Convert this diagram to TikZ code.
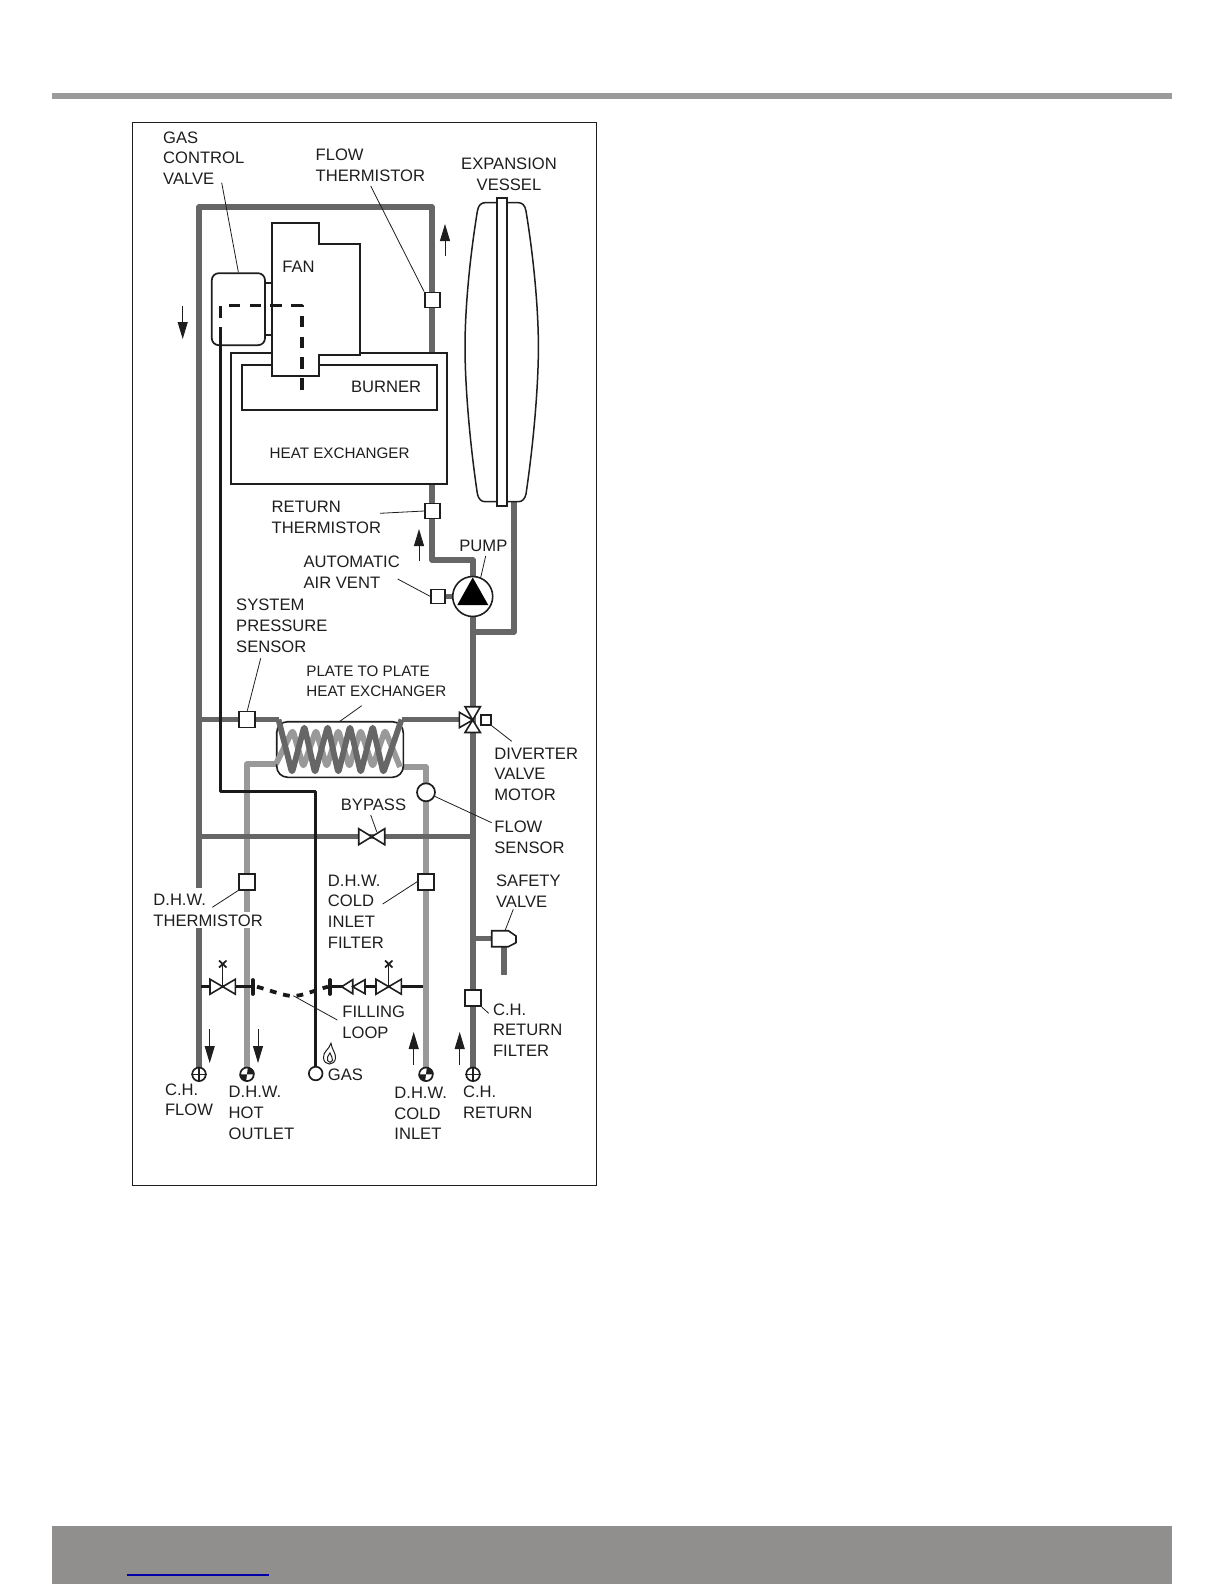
\documentclass[tikz,border=0pt]{standalone}
\usepackage{fontspec}
\setmainfont{Liberation Sans}
\usetikzlibrary{arrows.meta}
\definecolor{pipeD}{HTML}{666666}
\definecolor{pipeL}{HTML}{999999}
\definecolor{bandG}{HTML}{908F8E}
\definecolor{ruleG}{HTML}{9B9B9B}
\definecolor{inkK}{HTML}{1E1E1E}
\newcommand\stk[1]{\vtop{\baselineskip=10.35pt \lineskiplimit=-100pt \halign{##\hfil\cr #1\crcr}}}
\newcommand\stc[1]{\vtop{\baselineskip=10.35pt \lineskiplimit=-100pt \halign{\hfil##\hfil\cr #1\crcr}}}
\tikzset{
  pipedark/.style={draw=pipeD,line width=2.6pt,line join=round,line cap=butt},
  pipelight/.style={draw=pipeL,line width=2.6pt,line join=round,line cap=butt},
  gasline/.style={draw=black!90,line width=1.5pt,line join=round},
  thin box/.style={draw=inkK,fill=white,line width=.8pt,line join=miter},
  sensor/.style={draw=inkK,fill=white,line width=.85pt,inner sep=0pt,minimum size=7.5pt,rectangle},
  leader/.style={draw=inkK,line width=.4pt},
  lbl/.style={font=\fontsize{8.3pt}{10.35pt}\selectfont,text=inkK,inner sep=0pt,anchor=base west},
  lblsmall/.style={lbl,font=\fontsize{7.6pt}{10.35pt}\selectfont},
  flowarrow/.style={draw=inkK,line width=.45pt,-{Triangle[length=8.5pt,width=5pt,fill=inkK]}},
  term/.style={circle,draw=inkK,fill=white,line width=.85pt,inner sep=0pt,minimum size=6.8pt},
  valveshape/.style={draw=inkK,fill=white,line width=.8pt,line join=miter},
}
\newcommand\farrow[4]{\coordinate (#1a) at (#2,#3);\coordinate (#1b) at (#2,#4);\draw[flowarrow] (#1a) -- (#1b);}
\newcommand\vbow[4]{% cx cy halfwidth halfheight
  \draw[valveshape] (#1-#3,#2-#4) -- (#1-#3,#2+#4) -- (#1+#3,#2-#4) -- (#1+#3,#2+#4) -- cycle;}
\begin{document}
\begin{tikzpicture}[x=.5pt,y=-.5pt]
\useasboundingbox (0,0) rectangle (1224,1584);
% page furniture
\fill[ruleG] (52,93.5) rectangle (1172,99);
\fill[bandG] (52,1526) rectangle (1172,1584);
\coordinate (linkA) at (127,1575); \coordinate (linkB) at (269,1575);
\draw[draw=blue!65!black,line width=.7pt] (linkA) -- (linkB);
\draw[draw=inkK,line width=.5pt] (132.5,122.7) rectangle (596.8,1185);

% junctions
\coordinate (tl) at (199,207); \coordinate (tr) at (432,207);
\coordinate (flowend) at (199,1074); \coordinate (retend) at (473,1074);
\coordinate (rt1) at (432,560); \coordinate (rt2) at (473,560);
\coordinate (ev1) at (514,500); \coordinate (ev2) at (514,632); \coordinate (ev3) at (473,632);
\coordinate (plL0) at (199,719.5); \coordinate (plL1) at (278.5,719.5);
\coordinate (plR1) at (401.5,719.5); \coordinate (plR0) at (473,719.5);
\coordinate (byL) at (199,836.7); \coordinate (byR) at (473,836.7);
\coordinate (hotend) at (247,1074); \coordinate (hot1) at (247,764); \coordinate (hot2) at (281,764);
\coordinate (coldend) at (426,1074); \coordinate (cold1) at (426,767); \coordinate (cold2) at (400,767);
\coordinate (svA) at (473,938.7); \coordinate (svB) at (492,938.7);
\coordinate (svC) at (504,946); \coordinate (svD) at (504,974.7);
\coordinate (aavA) at (445,596.5); \coordinate (aavB) at (455,596.5);

% pipes, light ones first
\draw[pipelight] (hotend) -- (hot1) -- (hot2);
\draw[pipelight] (coldend) -- (cold1) -- (cold2);
\draw[pipedark] (flowend) -- (tl) -- (tr) -- (rt1) -- (rt2) -- (retend);
\draw[pipedark] (ev1) -- (ev2) -- (ev3);
\draw[pipedark] (plL0) -- (plL1);
\draw[pipedark] (plR1) -- (plR0);
\draw[pipedark] (byL) -- (byR);
\draw[pipedark] (svA) -- (svB);
\draw[pipedark] (svC) -- (svD);
\draw[pipedark] (aavA) -- (aavB);

% plate to plate heat exchanger
\draw[draw=inkK,fill=white,line width=.8pt,rounded corners=5.5pt] (276.7,721.7) rectangle (403.3,777.3);
\draw[pipelight,line width=2.9pt,rounded corners=1.6pt] (276,764) -- (292.7,730) -- (303.3,767) -- (316,730) -- (326.7,767) -- (338.3,730) -- (349.3,767) -- (360.7,730) -- (372.7,767) -- (385,730) -- (400,767);
\draw[pipedark,line width=2.9pt,rounded corners=1.6pt] (278.5,719.5) -- (292,773) -- (304.3,726) -- (315,773) -- (327.7,726) -- (338.3,773) -- (350,726) -- (360.7,773) -- (372.7,726) -- (383.3,773) -- (401.5,719.5);

% flue / burner block
\draw[thin box] (231,353) rectangle (447,484);
\draw[thin box,line width=.9pt] (242,365) rectangle (437,410);
\draw[thin box,line width=.9pt] (272,222.7) -- (319.3,222.7) -- (319.3,244) -- (360.3,244) -- (360.3,354.7) -- (319.3,354.7) -- (319.3,376) -- (272,376) -- cycle;
\coordinate (gvFa) at (265,282.7); \coordinate (gvFb) at (272,282.7);
\coordinate (gvFc) at (265,335); \coordinate (gvFd) at (272,335);
\draw[thin box] (gvFa) -- (gvFb);
\draw[thin box] (gvFc) -- (gvFd);
\node[draw=inkK,fill=white,line width=.85pt,rounded corners=3.5pt,inner sep=0pt,minimum width=26.6pt,minimum height=36pt] (gcv) at (238.4,309.2) {};

% gas
\coordinate (gasA) at (220.3,327); \coordinate (gasB) at (220.3,791); \coordinate (gasC) at (315.7,791); \coordinate (gasD) at (315.7,1067);
\coordinate (gasE) at (220.3,318); \coordinate (gasF) at (220.3,305.7); \coordinate (gasG) at (302,305.7); \coordinate (gasH) at (302,391);
\draw[gasline] (gasA) -- (gasB) -- (gasC) -- (gasD);
\draw[gasline,line width=1.7pt,dash pattern=on 5.8pt off 4.6pt] (gasE) -- (gasF) -- (gasG) -- (gasH);
\node[term] (gasT) at (315.7,1073.5) {};

% expansion vessel
\draw[draw=inkK,fill=white,line width=.75pt] (485,202.7) -- (518.4,202.7) .. controls (522,202.7) and (525,205) .. (526,211) .. controls (534,260) and (538.4,310) .. (538.4,347) .. controls (538.4,384) and (534,440) .. (526,494) .. controls (525,499) and (522,501.7) .. (518.4,501.7) -- (485,501.7) .. controls (481.4,501.7) and (478.4,499) .. (477.4,494) .. controls (469.4,440) and (465,384) .. (465,347) .. controls (465,310) and (469.4,260) .. (477.4,211) .. controls (478.4,205) and (481.4,202.7) .. (485,202.7) -- cycle;
\draw[thin box] (496.7,198) rectangle (506.7,506);

% pump
\node[term,minimum size=20pt,line width=.8pt] (pump) at (472.7,596.5) {};
\fill[black] (472.7,577.5) -- (488.3,605) -- (457.3,605) -- cycle;
\node[sensor,minimum size=7pt] (aav) at (438.3,596.5) {};

% labels (those on the left mask the pipes they overlap)
\node[lbl] (lGas) at (162.8,143.3) {\stk{GAS\cr CONTROL\cr VALVE}};
\node[lbl] (lFlowT) at (315.3,160.7) {\stk{FLOW\cr THERMISTOR}};
\node[lbl,anchor=base] (lExp) at (509,169.5) {\stc{EXPANSION\cr VESSEL}};
\node[lbl] (lFan) at (282,272.7) {FAN};
\node[lbl] (lBurner) at (350.7,392.7) {BURNER};
\node[lblsmall] (lHeat) at (269.3,458.3) {HEAT EXCHANGER};
\node[lbl] (lRetT) at (271.3,512.7) {\stk{RETURN\cr THERMISTOR}};
\node[lbl] (lPump) at (459,551) {PUMP};
\node[lbl] (lAAV) at (303.2,567.3) {\stk{AUTOMATIC\cr AIR VENT}};
\node[lbl] (lSys) at (235.8,610.7) {\stk{SYSTEM\cr PRESSURE\cr SENSOR}};
\node[lblsmall] (lPlate) at (306,676) {\stk{PLATE TO PLATE\cr HEAT EXCHANGER}};
\node[lbl] (lDiv) at (494,759) {\stk{DIVERTER\cr VALVE\cr MOTOR}};
\node[lbl] (lFS) at (494,832.3) {\stk{FLOW\cr SENSOR}};
\node[lbl] (lByp) at (340.5,810.7) {BYPASS};
\node[fill=white,inner sep=0pt,minimum width=5pt,minimum height=20pt] (maskA) at (199,908) {};
\node[lbl,fill=white,inner sep=1.5pt,inner xsep=1pt] (lDhwA) at (151,905) {D.H.W.};
\node[lbl,fill=white,inner sep=1pt] (lDhwB) at (151,926) {THERMISTOR};
\node[lbl] (lCIF) at (327.5,886) {\stk{D.H.W.\cr COLD\cr INLET\cr FILTER}};
\node[lbl] (lSafe) at (495.7,886.7) {\stk{SAFETY\cr VALVE}};
\node[lbl] (lFill) at (342,1017.7) {\stk{FILLING\cr LOOP}};
\node[lbl] (lCHRF) at (492.7,1015) {\stk{C.H.\cr RETURN\cr FILTER}};
\node[lbl] (lGasT) at (327.5,1080.7) {GAS};
\node[lbl] (lCHF) at (164.7,1095) {\stk{C.H.\cr FLOW}};
\node[lbl] (lDHO) at (228.3,1097.7) {\stk{D.H.W.\cr HOT\cr OUTLET}};
\node[lbl] (lDCI) at (394,1098.3) {\stk{D.H.W.\cr COLD\cr INLET}};
\node[lbl] (lCHR) at (462.7,1097.7) {\stk{C.H.\cr RETURN}};

% sensors
\node[sensor] (flowT) at (432.5,300) {};
\node[sensor] (retT) at (432.5,511) {};
\node[sensor,minimum size=8pt] (sysP) at (247.3,719.5) {};
\node[sensor,minimum size=8pt] (dhwT) at (247,881.7) {};
\node[sensor,minimum size=8pt] (coldF) at (426,881.7) {};
\node[sensor,minimum size=8pt] (chrF) at (473,998.3) {};
\node[term,minimum size=9pt] (flowS) at (426,792.3) {};
\node[sensor,minimum size=5pt,line width=.7pt] (divM) at (486,720) {};

% diverter valve
\draw[valveshape] (465,706.7) -- (480.4,706.7) -- (472.7,720) -- cycle;
\draw[valveshape] (465,732.5) -- (480.4,732.5) -- (472.7,720) -- cycle;
\draw[valveshape] (459.3,712.3) -- (459.3,727.7) -- (472.7,720) -- cycle;

% bypass valve
\vbow{371.7}{836.7}{13}{8}

% safety valve
\draw[valveshape] (491.7,930.7) -- (508.3,930.7) -- (516,936) -- (516,942.7) -- (508.3,946.7) -- (491.7,946.7) -- cycle;

% filling loop
\coordinate (flA) at (201,986.7); \coordinate (flB) at (253,986.7);
\coordinate (flC) at (330,986.7); \coordinate (flD) at (423,986.7);
\coordinate (capAt) at (252.7,980); \coordinate (capAb) at (252.7,994);
\coordinate (capBt) at (330,980); \coordinate (capBb) at (330,994);
\draw[draw=black!90,line width=1.7pt] (flA) -- (flB);
\draw[draw=black!90,line width=1.7pt] (flC) -- (flD);
\draw[draw=black!90,line width=1.9pt,line cap=round] (capAt) -- (capAb);
\draw[draw=black!90,line width=1.9pt,line cap=round] (capBt) -- (capBb);
\draw[draw=black!90,line width=1.9pt,dash pattern=on 3.4pt off 3.4pt] (257,986.7) .. controls (275,992) and (285,996) .. (293,996) .. controls (303,996) and (315,990) .. (328,986.7);
\vbow{222.7}{986.7}{12.7}{7.5}
\vbow{388.7}{986.7}{12.7}{7.5}
\draw[valveshape] (341.7,986.7) -- (352.7,979.7) -- (352.7,993.7) -- cycle;
\draw[valveshape] (352.7,986.7) -- (365,979.7) -- (365,993.7) -- cycle;
\coordinate (hAa) at (222.7,986.7); \coordinate (hAb) at (222.7,964.3);
\coordinate (hBa) at (388.7,986.7); \coordinate (hBb) at (388.7,964.3);
\draw[leader,line width=.5pt] (hAa) -- (hAb);
\draw[leader,line width=.5pt] (hBa) -- (hBb);
\draw[draw=inkK,line width=.85pt] (219,960.5) -- (226.5,967.5) (226.5,960.5) -- (219,967.5);
\draw[draw=inkK,line width=.85pt] (385,960.5) -- (392.5,967.5) (392.5,960.5) -- (385,967.5);

% terminals
\node[term] (tCHF) at (199,1074.3) {};
\draw[draw=inkK,line width=.7pt] (tCHF.north) -- (tCHF.south) (tCHF.west) -- (tCHF.east);
\node[term] (tCHR) at (473,1074.3) {};
\draw[draw=inkK,line width=.7pt] (tCHR.north) -- (tCHR.south) (tCHR.west) -- (tCHR.east);
\node[term] (tHot) at (247,1074.3) {};
\fill[inkK] (tHot.center) -- (tHot.west) arc[start angle=180,end angle=90,radius=6.8] -- cycle;
\fill[inkK] (tHot.center) -- (tHot.east) arc[start angle=0,end angle=-90,radius=6.8] -- cycle;
\node[term] (tCold) at (426,1074.3) {};
\fill[inkK] (tCold.center) -- (tCold.west) arc[start angle=180,end angle=90,radius=6.8] -- cycle;
\fill[inkK] (tCold.center) -- (tCold.east) arc[start angle=0,end angle=-90,radius=6.8] -- cycle;

% flame
\draw[draw=inkK,line width=.5pt] (331,1043.3) .. controls (329,1050) and (323,1051) .. (323.5,1058) .. controls (324,1066) and (335,1066) .. (335.5,1058) .. controls (336,1053) and (332,1050) .. (331,1043.3) -- cycle;
\draw[draw=inkK,line width=.5pt] (330,1053) .. controls (328,1056) and (326.5,1058) .. (327.5,1060.5) .. controls (328.5,1063) and (331.5,1063) .. (332.5,1060.5) .. controls (333,1058) and (331,1056) .. (330,1053) -- cycle;

% flow arrows
\farrow{arA}{445}{256}{224}
\farrow{arB}{182.7}{306}{339}
\farrow{arC}{419}{561}{529}
\farrow{arD}{209.7}{1029}{1063}
\farrow{arE}{258}{1029}{1063}
\farrow{arF}{413.7}{1065}{1032}
\farrow{arG}{459.7}{1065}{1032}

% leaders
\coordinate (ldGas) at (221.7,182.7); \draw[leader] (ldGas) -- (gcv.north);
\coordinate (ldFlow) at (370.7,186); \draw[leader] (ldFlow) -- (flowT.north west);
\coordinate (ldRet) at (380,513.3); \draw[leader] (ldRet) -- (retT.west);
\coordinate (ldAAV) at (397.7,579); \draw[leader] (ldAAV) -- (aav.west);
\coordinate (ldPump) at (485.7,556); \coordinate (ldPump2) at (480.7,577.5); \draw[leader] (ldPump) -- (ldPump2);
\coordinate (ldSys) at (260.7,658.3); \draw[leader] (ldSys) -- (sysP.north);
\coordinate (ldPl) at (361.7,705.7); \coordinate (ldPl2) at (339.3,721.7); \draw[leader] (ldPl) -- (ldPl2);
\coordinate (ldDiv) at (511.7,741.3); \draw[leader] (ldDiv) -- (divM.south east);
\coordinate (ldFS) at (491.7,822.7); \draw[leader] (ldFS) -- (flowS);
\coordinate (ldByp) at (370.7,815); \coordinate (ldByp2) at (376.7,831.7); \draw[leader] (ldByp) -- (ldByp2);
\coordinate (ldDhw) at (212.3,907.3); \draw[leader] (ldDhw) -- (dhwT.south west);
\coordinate (ldCold) at (382.7,904); \draw[leader] (ldCold) -- (coldF.west);
\coordinate (ldSafe) at (513.3,909.3); \coordinate (ldSafe2) at (505,930.7); \draw[leader] (ldSafe) -- (ldSafe2);
\coordinate (ldFill) at (293.3,995.7); \coordinate (ldFill2) at (337.3,1020); \draw[leader] (ldFill) -- (ldFill2);
\coordinate (ldCHR) at (488.7,1013.3); \draw[leader] (ldCHR) -- (chrF.south east);
\end{tikzpicture}
\end{document}
